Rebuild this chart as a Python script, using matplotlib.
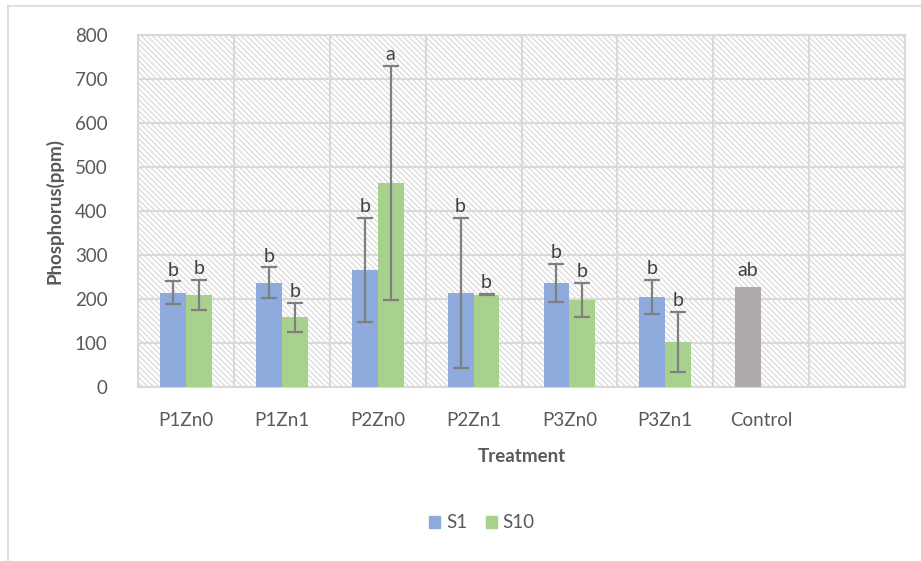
import matplotlib.pyplot as plt
import numpy as np
from matplotlib.patches import Rectangle
from matplotlib.lines import Line2D

plt.rcParams['font.family'] = ['Lato', 'DejaVu Sans']
plt.rcParams['hatch.linewidth'] = 0.9

# treatments (last slot left empty on the axis)
treatments = ['P1Zn0', 'P1Zn1', 'P2Zn0', 'P2Zn1', 'P3Zn0', 'P3Zn1', 'Control', '']
s1_mean = [214, 237, 266, 214, 237, 204, 227]
s1_err = [26, 35, 118, 170, 43, 39, 0]
s1_sig = ['b', 'b', 'b', 'b', 'b', 'b', 'ab']
s10_mean = [209, 159, 464, 210, 198, 102]
s10_err = [34, 33, 266, 2, 39, 68]
s10_sig = ['b', 'b', 'a', 'b', 'b', 'b']

blue = '#8faadc'
green = '#a9d18e'
grey = '#aeaaaa'
err_col = '#7f7f7f'
text_col = '#595959'
line_col = '#d9d9d9'

fig = plt.figure(figsize=(9.21, 5.61), dpi=100)

# outer chart frame (top and left edges only are visible)
fig.add_artist(Line2D([8 / 921, 8 / 921], [0, 1 - 6 / 561], transform=fig.transFigure,
                      color=line_col, lw=1.2))
fig.add_artist(Line2D([8 / 921, 1], [1 - 6 / 561, 1 - 6 / 561], transform=fig.transFigure,
                      color=line_col, lw=1.2))

ax = fig.add_axes([138 / 921, 1 - 387 / 561, (905 - 138) / 921, (387 - 35) / 561])

# hatched plot background
ax.add_patch(Rectangle((0, 0), 1, 1, transform=ax.transAxes, facecolor='white',
                       edgecolor='#dadada', hatch='\\\\\\\\\\\\', lw=0, zorder=0))

n = len(treatments)
x = np.arange(n)
w = 0.27

s1_colors = [blue] * 6 + [grey]
x1 = x[:7] - w / 2
x2 = x[:6] + w / 2

ax.bar(x1, s1_mean, w, color=s1_colors, zorder=3)
ax.bar(x2, s10_mean, w, color=green, zorder=3)

# error bars (control has none)
ax.errorbar(x1[:6], s1_mean[:6], yerr=s1_err[:6], fmt='none', ecolor=err_col,
            elinewidth=1.6, capsize=6, capthick=1.6, zorder=4)
ax.errorbar(x2, s10_mean, yerr=s10_err, fmt='none', ecolor=err_col,
            elinewidth=1.6, capsize=6, capthick=1.6, zorder=4)

# significance letters above each bar
for xi, m, e, s in zip(x1, s1_mean, s1_err, s1_sig):
    ax.annotate(s, (xi, m + e), xytext=(0, 2 if e else 6), textcoords='offset points',
                ha='center', va='bottom', fontsize=14, color='#404040', zorder=5)
for xi, m, e, s in zip(x2, s10_mean, s10_err, s10_sig):
    ax.annotate(s, (xi, m + e), xytext=(0, 2), textcoords='offset points',
                ha='center', va='bottom', fontsize=14, color='#404040', zorder=5)

ax.set_xlim(-0.5, n - 0.5)
ax.set_ylim(0, 800)
ax.set_yticks(np.arange(0, 801, 100))
ax.set_xticks(x)
ax.set_xticklabels(treatments)
ax.set_xticks(np.arange(-0.5, n, 1), minor=True)
ax.tick_params(axis='both', which='both', length=0, labelsize=13.5, labelcolor=text_col)
ax.tick_params(axis='x', pad=18)
ax.tick_params(axis='y', pad=22)

ax.grid(axis='y', which='major', color=line_col, lw=1.5, zorder=1)
ax.grid(axis='x', which='minor', color=line_col, lw=1.5, zorder=1)
ax.set_axisbelow(True)
for sp in ax.spines.values():
    sp.set_color(line_col)
    sp.set_linewidth(1.5)

ax.set_xlabel('Treatment', fontsize=13.5, fontweight='bold', color=text_col, labelpad=14)
ax.set_ylabel('Phosphorus(ppm)', fontsize=13.5, fontweight='bold', color=text_col, labelpad=8)

handles = [Rectangle((0, 0), 1, 1, color=blue), Rectangle((0, 0), 1, 1, color=green)]
fig.legend(handles, ['S1', 'S10'], loc='center', bbox_to_anchor=(482 / 921, 1 - 523 / 561),
           ncol=2, frameon=False, fontsize=13.5, labelcolor=text_col,
           handlelength=0.6, handleheight=0.6, handletextpad=0.3, columnspacing=1.0)

fig.savefig('out.png', dpi=100)
